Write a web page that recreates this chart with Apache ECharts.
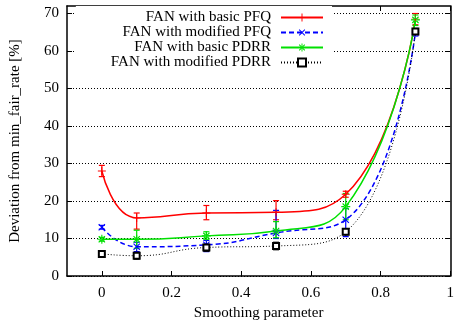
<!DOCTYPE html>
<html>
<head>
<meta charset="utf-8">
<script src="https://cdn.jsdelivr.net/npm/echarts@6/dist/echarts.min.js"></script>
<style>
    html, body { margin: 0; padding: 0; background: #fff; }
    #main { width: 457px; height: 326px; }
</style>
</head>
<body>
<div id="main"></div>
<script>
// smoothing parameter values where runs were made
const xValues = [0, 0.1, 0.3, 0.5, 0.7, 0.9];

const basicPfq = [28, 15.5, 16.8, 17, 21.8, 68.5];
const basicPfqLow = [26.5, 12.5, 15, 15, 21, 67];
const basicPfqHigh = [29.5, 16.8, 18.8, 20.1, 22.6, 70];

const modifiedPfq = [13, 7.8, 8.3, 11.5, 15, 65];
const modifiedPfqLow = [12.5, 6.5, 6.5, 10, 10.5, 64];
const modifiedPfqHigh = [13.5, 9, 9.5, 17.5, 18, 66];

const basicPdrr = [9.8, 9.8, 10.7, 12, 18.5, 68.3];
const basicPdrrLow = [9.3, 7.4, 9.8, 10.2, 15, 66.8];
const basicPdrrHigh = [10.3, 12.2, 11.8, 14.5, 22, 69.6];

const modifiedPdrr = [5.9, 5.4, 7.6, 8, 11.8, 65.2];
const modifiedPdrrLow = [5.5, 4.5, 6.6, 7, 11, 64.5];
const modifiedPdrrHigh = [6.3, 6.3, 8.5, 9, 12.6, 66];

const xTicks = [0, 0.2, 0.4, 0.6, 0.8, 1];
const yTicks = [0, 10, 20, 30, 40, 50, 60, 70];

const seriesNames = ['FAN with basic PFQ', 'FAN with modified PFQ', 'FAN with basic PDRR', 'FAN with modified PDRR'];

const font = 'Liberation Serif';

// marker shapes
const plusPath = 'path://M-1.2,-10 L1.2,-10 L1.2,10 L-1.2,10 Z M-10,-1.2 L10,-1.2 L10,1.2 L-10,1.2 Z';
const starPath = 'path://M-1.2,-10 L1.2,-10 L1.2,10 L-1.2,10 Z M-10,-1.2 L10,-1.2 L10,1.2 L-10,1.2 Z ' +
    'M-7.9,-6.1 L6.1,7.9 L7.9,6.1 L-6.1,-7.9 Z M6.1,-7.9 L-7.9,6.1 L-6.1,7.9 L7.9,-6.1 Z';

function pairs(values){
    return xValues.map((x, i) => [x, values[i]]);
}

function lineSeries(name, color, values, type, width, symbol, size, rotate){
    return {
        name: name,
        type: 'line',
        data: pairs(values),
        smooth: 0.5,
        symbol: symbol,
        symbolSize: size,
        symbolRotate: rotate || 0,
        showSymbol: true,
        color: color,
        itemStyle: symbol === 'emptyRect'
            ? { color: color, borderColor: color, borderWidth: 1.2 }
            : { color: color },
        lineStyle: { color: color, width: width, type: type },
        z: 4
    };
}

function errorSeries(color, low, high){
    return {
        type: 'custom',
        silent: true,
        data: xValues.map((x, i) => [x, low[i], high[i]]),
        renderItem: function(params, api){
            const lo = api.coord([api.value(0), api.value(1)]);
            const hi = api.coord([api.value(0), api.value(2)]);
            const w = 3;
            const style = { stroke: color, lineWidth: 1.2 };
            return {
                type: 'group',
                children: [
                    { type: 'line', shape: { x1: lo[0], y1: lo[1], x2: hi[0], y2: hi[1] }, style: style },
                    { type: 'line', shape: { x1: lo[0] - w, y1: lo[1], x2: lo[0] + w, y2: lo[1] }, style: style },
                    { type: 'line', shape: { x1: hi[0] - w, y1: hi[1], x2: hi[0] + w, y2: hi[1] }, style: style }
                ]
            };
        },
        z: 3
    };
}

const chart = echarts.init(document.getElementById('main'));
chart.setOption({
    animation: false,
    backgroundColor: '#fff',
    textStyle: { fontFamily: font },
    grid: { left: 67, right: 3, top: 6, bottom: 48 },
    legend: {
        data: seriesNames,
        orient: 'vertical',
        align: 'right',
        right: 125,
        top: 6,
        padding: [4, 8, 4, 35],
        backgroundColor: '#fff',
        itemWidth: 42,
        itemHeight: 10,
        itemGap: 0,
        textStyle: { fontFamily: font, fontSize: 15, color: '#000', lineHeight: 15, padding: [0, 5, 0, 0] },
        selectedMode: false,
        z: 5
    },
    xAxis: [
        {
            type: 'value',
            min: -0.1,
            max: 1.0,
            name: 'Smoothing parameter',
            nameLocation: 'middle',
            nameGap: 30,
            nameTextStyle: { fontFamily: font, fontSize: 15, color: '#000' },
            axisLine: { onZero: false, lineStyle: { color: '#000', width: 1.5 } },
            axisTick: { inside: true, length: 5, customValues: xTicks, lineStyle: { color: '#000' } },
            axisLabel: { customValues: xTicks, margin: 10, fontFamily: font, fontSize: 15, color: '#000' },
            splitLine: { show: false }
        },
        {
            type: 'value',
            position: 'top',
            min: -0.1,
            max: 1.0,
            axisLine: { onZero: false, lineStyle: { color: '#000', width: 1.5 } },
            axisTick: { inside: true, length: 5, customValues: xTicks, lineStyle: { color: '#000' } },
            axisLabel: { show: false },
            splitLine: { show: false }
        }
    ],
    yAxis: [
        {
            type: 'value',
            min: 0,
            max: 72,
            name: 'Deviation from min_fair_rate [%]',
            nameLocation: 'middle',
            nameGap: 44,
            nameTextStyle: { fontFamily: font, fontSize: 15, color: '#000' },
            axisLine: { show: true, onZero: false, lineStyle: { color: '#000', width: 1.5 } },
            axisTick: { show: true, inside: true, length: 5, customValues: yTicks, lineStyle: { color: '#000' } },
            axisLabel: { customValues: yTicks, margin: 8, fontFamily: font, fontSize: 15, color: '#000' },
            splitLine: { show: true, lineStyle: { color: '#000', width: 1, type: [1, 2] } }
        },
        {
            type: 'value',
            position: 'right',
            min: 0,
            max: 72,
            axisLine: { show: true, onZero: false, lineStyle: { color: '#000', width: 1.5 } },
            axisTick: { show: true, inside: true, length: 5, customValues: yTicks, lineStyle: { color: '#000' } },
            axisLabel: { show: false },
            splitLine: { show: false }
        }
    ],
    series: [
        lineSeries(seriesNames[0], '#ff0000', basicPfq, 'solid', 1.5, plusPath, 8),
        lineSeries(seriesNames[1], '#0000ff', modifiedPfq, [5, 3], 1.5, plusPath, 9, 45),
        lineSeries(seriesNames[2], '#00e000', basicPdrr, 'solid', 1.5, starPath, 9),
        lineSeries(seriesNames[3], '#000000', modifiedPdrr, [1, 2], 1, 'emptyRect', 6),
        errorSeries('#ff0000', basicPfqLow, basicPfqHigh),
        errorSeries('#0000ff', modifiedPfqLow, modifiedPfqHigh),
        errorSeries('#00e000', basicPdrrLow, basicPdrrHigh),
        errorSeries('#000000', modifiedPdrrLow, modifiedPdrrHigh)
    ]
});
</script>
</body>
</html>
